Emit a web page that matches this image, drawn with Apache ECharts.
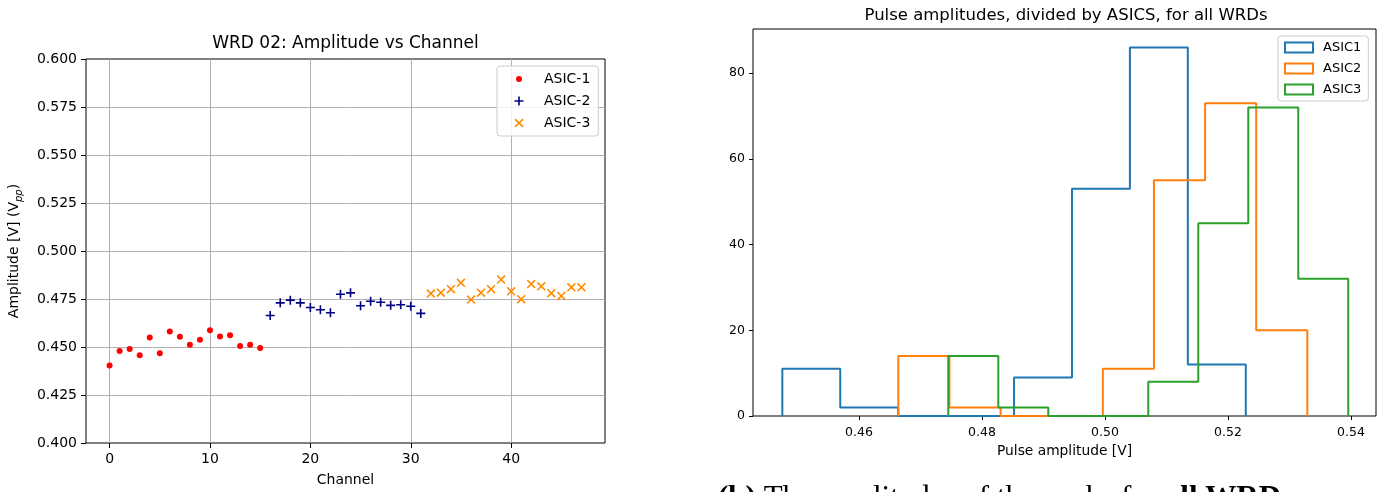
<!DOCTYPE html>
<html><head><meta charset="utf-8">
<script src="https://cdn.jsdelivr.net/npm/echarts@6/dist/echarts.min.js"></script>
<style>html,body{margin:0;padding:0;background:#fff}#c{width:1383px;height:492px}</style>
</head><body><div id="c"></div>
<script>
// ---- Left chart data: WRD 02 amplitude vs channel ----
const asic1Channels = [0,1,2,3,4,5,6,7,8,9,10,11,12,13,14,15];
const asic1Amp = [0.4404,0.4479,0.4490,0.4457,0.4549,0.4467,0.4581,0.4554,0.4512,0.4538,0.4587,0.4555,0.4561,0.4505,0.4512,0.4495];
const asic2Channels = [16,17,18,19,20,21,22,23,24,25,26,27,28,29,30,31];
const asic2Amp = [0.4664,0.4730,0.4744,0.4730,0.4706,0.4694,0.4678,0.4775,0.4782,0.4715,0.4738,0.4733,0.4717,0.4720,0.4712,0.4675];
const asic3Channels = [32,33,34,35,36,37,38,39,40,41,42,43,44,45,46,47];
const asic3Amp = [0.4778,0.4783,0.4801,0.4834,0.4747,0.4783,0.4801,0.4851,0.4790,0.4749,0.4828,0.4816,0.4780,0.4766,0.4811,0.4811];
const leftSeriesNames = ['ASIC-1','ASIC-2','ASIC-3'];

// ---- Right chart data: histogram of pulse amplitudes ----
const asic1Edges = [0.44753,0.45695,0.46637,0.47579,0.48521,0.49463,0.50405,0.51347,0.52289];
const asic1Counts = [11,2,0,0,9,53,86,12];
const asic2Edges = [0.46639,0.47470,0.48302,0.49133,0.49965,0.50796,0.51628,0.52459,0.53290];
const asic2Counts = [14,2,0,0,11,55,73,20];
const asic3Edges = [0.47452,0.48265,0.49078,0.49891,0.50704,0.51517,0.52330,0.53143,0.53956];
const asic3Counts = [14,2,0,0,8,45,72,32];
const rightSeriesNames = ['ASIC1','ASIC2','ASIC3'];

const FONT = 'DejaVu Sans';
const pairs = (xs, ys) => xs.map((x, i) => [x, ys[i]]);
function stepOutline(edges, counts) {
  const pts = [[edges[0], 0]];
  counts.forEach((c, i) => { pts.push([edges[i], c]); pts.push([edges[i + 1], c]); });
  pts.push([edges[edges.length - 1], 0]);
  return pts;
}

const plusSym = 'path://M3.7,0H5.3V9H3.7ZM0,3.7H9V5.3H0Z';
const xSym = 'path://M0,1.13L1.13,0L9,7.87L7.87,9ZM7.87,0L9,1.13L1.13,9L0,7.87Z';
const dotIcon = 'path://M0,0L0,0M27,14L27,14M10,7A3,3,0,1,1,4,7A3,3,0,1,1,10,7Z';
const plusIcon = 'path://M0,0L0,0M27,14L27,14M6.2,2.5H7.8V11.5H6.2ZM2.5,6.2H11.5V7.8H2.5Z';
const xIcon = 'path://M0,0L0,0M27,14L27,14M2.5,3.63L3.63,2.5L11.5,10.37L10.37,11.5ZM10.37,2.5L11.5,3.63L3.63,11.5L2.5,10.37Z';

const histColors = ['#1f77b4', '#ff7f0e', '#2ca02c'];

const chart = echarts.init(document.getElementById('c'), null, {renderer: 'canvas'});
const tickLabel = (size) => ({fontFamily: FONT, fontSize: size, color: '#000'});
const near = (v, step) => Math.abs(Math.round(v / step) * step - v) < 1e-9;

chart.setOption({
  animation: false,
  backgroundColor: '#fff',
  title: [
    {text: 'WRD 02: Amplitude vs Channel', left: 345.5, top: 35, textAlign: 'center', padding: 0,
     textStyle: {fontFamily: FONT, fontSize: 17, fontWeight: 'normal', color: '#000'}},
    {text: 'Pulse amplitudes, divided by ASICS, for all WRDs', left: 1066, top: 7, textAlign: 'center', padding: 0,
     textStyle: {fontFamily: FONT, fontSize: 16.5, fontWeight: 'normal', color: '#000'}}
  ],
  grid: [
    {left: 86, right: 778, top: 59, bottom: 47, show: true, borderColor: '#000', borderWidth: 1, backgroundColor: 'transparent'},
    {left: 753, right: 7, top: 29, bottom: 76, show: true, borderColor: '#000', borderWidth: 1, backgroundColor: 'transparent'}
  ],
  xAxis: [
    {gridIndex: 0, type: 'value', min: -2.35, max: 49.35, splitNumber: 5,
     name: 'Channel', nameLocation: 'middle', nameGap: 30,
     nameTextStyle: {fontFamily: FONT, fontSize: 14, color: '#000'},
     axisLine: {show: false, onZero: false},
     axisTick: {show: true, length: 5, lineStyle: {color: '#000', width: 1}},
     axisLabel: Object.assign({margin: 9, showMinLabel: false, showMaxLabel: false,
       formatter: v => (near(v, 10) ? String(Math.round(v)) : '')}, tickLabel(14)),
     splitLine: {show: true, showMinLine: false, showMaxLine: false, lineStyle: {color: '#b0b0b0', width: 1}}},
    {gridIndex: 1, type: 'value', min: 0.44276, max: 0.54407, splitNumber: 5,
     name: 'Pulse amplitude [V]', nameLocation: 'middle', nameGap: 28,
     nameTextStyle: {fontFamily: FONT, fontSize: 13.8, color: '#000'},
     axisLine: {show: false, onZero: false},
     axisTick: {show: true, length: 4, lineStyle: {color: '#000', width: 1}},
     axisLabel: Object.assign({margin: 10, showMinLabel: false, showMaxLabel: false,
       formatter: v => (near(v, 0.02) ? v.toFixed(2) : '')}, tickLabel(12.5)),
     splitLine: {show: false}}
  ],
  yAxis: [
    {gridIndex: 0, type: 'value', min: 0.4, max: 0.6, interval: 0.025,
     name: '{a|Amplitude [V] (V}{s|pp}{a|)}', nameLocation: 'middle', nameGap: 62, nameRotate: 90,
     nameTextStyle: {rich: {
       a: {fontFamily: FONT, fontSize: 14, color: '#000', lineHeight: 14},
       s: {fontFamily: FONT, fontSize: 10, fontStyle: 'italic', color: '#000', lineHeight: 20, verticalAlign: 'bottom'}
     }},
     axisLine: {show: false, onZero: false},
     axisTick: {show: true, length: 5, lineStyle: {color: '#000', width: 1}},
     axisLabel: Object.assign({margin: 9, formatter: v => v.toFixed(3)}, tickLabel(14)),
     splitLine: {show: true, showMinLine: false, showMaxLine: false, lineStyle: {color: '#b0b0b0', width: 1}}},
    {gridIndex: 1, type: 'value', min: 0, max: 90.3, splitNumber: 5,
     axisLine: {show: false, onZero: false},
     axisTick: {show: true, length: 4, lineStyle: {color: '#000', width: 1}},
     axisLabel: Object.assign({margin: 8, showMaxLabel: false,
       formatter: v => (near(v, 20) ? String(Math.round(v)) : '')}, tickLabel(12.5)),
     splitLine: {show: false}}
  ],
  legend: [
    {left: 497, top: 66, orient: 'vertical', padding: [6, 8, 6, 15], itemGap: 8,
     itemWidth: 27, itemHeight: 14, backgroundColor: 'rgba(255,255,255,0.85)', borderColor: '#cccccc',
     borderWidth: 1, borderRadius: 3, z: 10,
     textStyle: {fontFamily: FONT, fontSize: 14, color: '#000'},
     data: [
       {name: leftSeriesNames[0], icon: dotIcon},
       {name: leftSeriesNames[1], icon: plusIcon},
       {name: leftSeriesNames[2], icon: xIcon}
     ]},
    {left: 1278, top: 36, orient: 'vertical', padding: [5, 7, 5, 6], itemGap: 8,
     itemWidth: 28, itemHeight: 10, backgroundColor: 'rgba(255,255,255,0.85)', borderColor: '#cccccc',
     borderWidth: 1, borderRadius: 3, z: 10,
     textStyle: {fontFamily: FONT, fontSize: 13, color: '#000', padding: [0, 0, 0, 5]},
     data: rightSeriesNames.map((n, i) => ({name: n, icon: 'rect',
       itemStyle: {color: 'rgba(0,0,0,0)', borderColor: histColors[i], borderWidth: 2}}))}
  ],
  graphic: [
    {type: 'text', left: 718, top: 483, z: 10,
     style: {text: '{b|(b)} The amplitudes of the peaks for {b|all WRD}',
       fontFamily: 'Liberation Serif', fontSize: 31, fill: '#000',
       rich: {b: {fontFamily: 'Liberation Serif', fontSize: 31, fontWeight: 'bold', fill: '#000'}}}}
  ],
  series: [
    {name: leftSeriesNames[0], type: 'scatter', xAxisIndex: 0, yAxisIndex: 0,
     data: pairs(asic1Channels, asic1Amp), symbol: 'circle', symbolSize: 6,
     itemStyle: {color: '#ff0000', opacity: 1}},
    {name: leftSeriesNames[1], type: 'scatter', xAxisIndex: 0, yAxisIndex: 0,
     data: pairs(asic2Channels, asic2Amp), symbol: plusSym, symbolSize: 9,
     itemStyle: {color: '#000080', opacity: 1}},
    {name: leftSeriesNames[2], type: 'scatter', xAxisIndex: 0, yAxisIndex: 0,
     data: pairs(asic3Channels, asic3Amp), symbol: xSym, symbolSize: 9,
     itemStyle: {color: '#ff8c00', opacity: 1}},
    {name: rightSeriesNames[0], type: 'line', xAxisIndex: 1, yAxisIndex: 1,
     data: stepOutline(asic1Edges, asic1Counts), showSymbol: false, symbol: 'none',
     lineStyle: {color: histColors[0], width: 2}, itemStyle: {color: histColors[0]}},
    {name: rightSeriesNames[1], type: 'line', xAxisIndex: 1, yAxisIndex: 1,
     data: stepOutline(asic2Edges, asic2Counts), showSymbol: false, symbol: 'none',
     lineStyle: {color: histColors[1], width: 2}, itemStyle: {color: histColors[1]}},
    {name: rightSeriesNames[2], type: 'line', xAxisIndex: 1, yAxisIndex: 1,
     data: stepOutline(asic3Edges, asic3Counts), showSymbol: false, symbol: 'none',
     lineStyle: {color: histColors[2], width: 2}, itemStyle: {color: histColors[2]}}
  ]
});
</script>
</body></html>
